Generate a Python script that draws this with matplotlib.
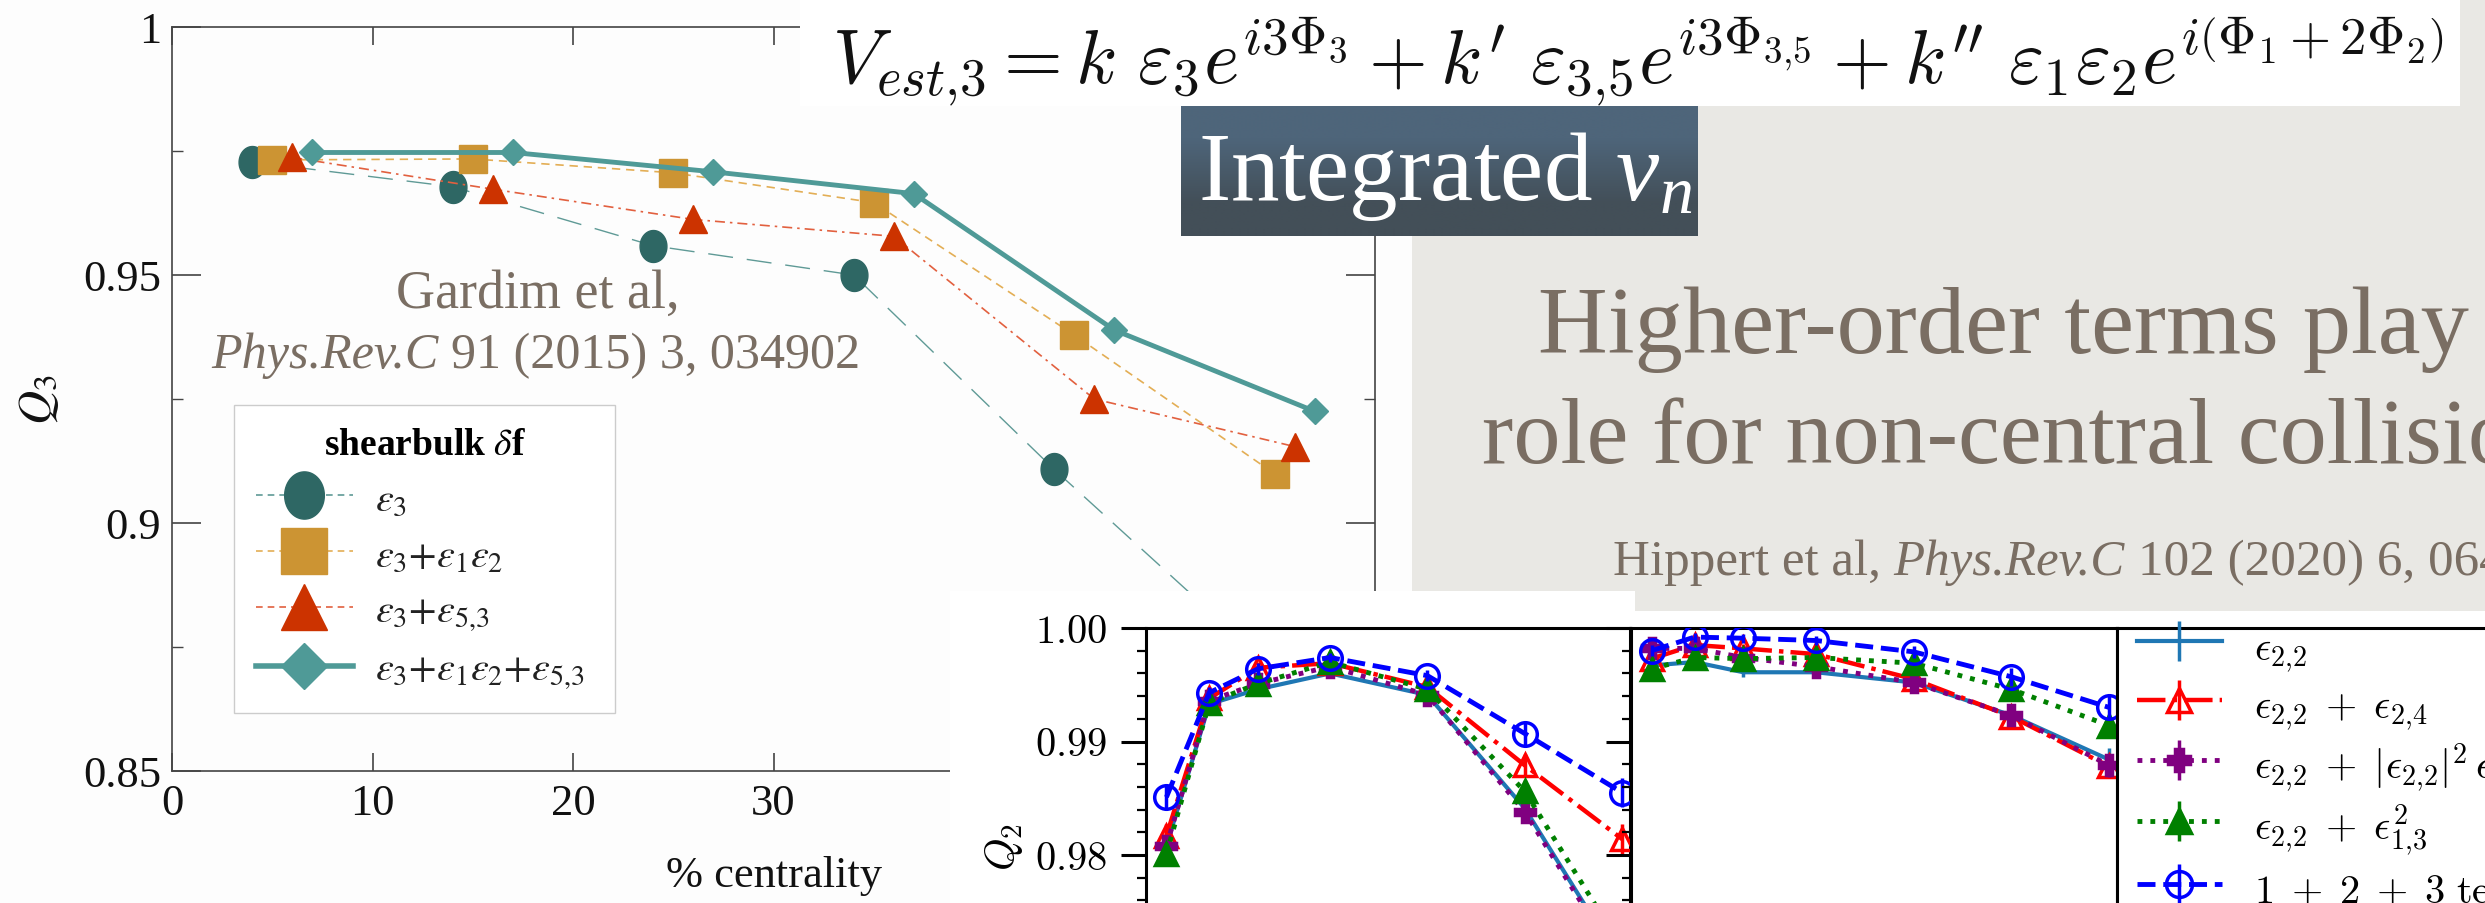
import numpy as np
import matplotlib
matplotlib.use("Agg")
import matplotlib.pyplot as plt
from matplotlib.patches import Rectangle
from matplotlib.path import Path
from matplotlib.lines import Line2D
from matplotlib.font_manager import FontProperties
from matplotlib.ticker import FixedLocator, MultipleLocator, FuncFormatter
import matplotlib.colors as mcolors

# ---------------- data: Gardim et al. (left chart) ----------------
gardim_labels = [r"$\varepsilon_3$",
                 r"$\varepsilon_3{+}\varepsilon_1\varepsilon_2$",
                 r"$\varepsilon_3{+}\varepsilon_{5{,}3}$",
                 r"$\varepsilon_3{+}\varepsilon_1\varepsilon_2{+}\varepsilon_{5{,}3}$"]
cent_e3 = [4, 14, 24, 34, 44, 54]
q3_e3 = [0.9728, 0.9678, 0.9559, 0.9500, 0.9108, 0.8740]
q3_e3_err = [0.0012, 0.0010, 0.0009, 0.0008, 0.0008, 0.0008]
cent_e3_e12 = [5, 15, 25, 35, 45, 55]
q3_e3_e12 = [0.9732, 0.9734, 0.9706, 0.9646, 0.9379, 0.9099]
cent_e3_e53 = [6, 16, 26, 36, 46, 56]
q3_e3_e53 = [0.9737, 0.9673, 0.9612, 0.9578, 0.9250, 0.9154]
cent_all = [7, 17, 27, 37, 47, 57]
q3_all = [0.9747, 0.9747, 0.9708, 0.9664, 0.9389, 0.9225]
gardim_xticks = [0, 10, 20, 30, 40, 50, 60]
gardim_yticks = [0.85, 0.9, 0.95, 1.0]

# ---------------- data: Hippert et al. (bottom right panels) ----------------
hip_cent = [8.2, 12.6, 17.6, 25, 35, 45, 55]
hip_labels = [r"$\epsilon_{2{,}2}$",
              r"$\epsilon_{2{,}2}\;+\;\epsilon_{2{,}4}$",
              r"$\epsilon_{2{,}2}\;+\;|\epsilon_{2{,}2}|^2\,\epsilon_{2{,}2}$",
              r"$\epsilon_{2{,}2}\;+\;\epsilon_{1{,}3}^2$",
              r"$1\;+\;2\;+\;3\ \mathrm{terms}$"]
# left panel
q2a_e22 = [0.9808, 0.9933, 0.9946, 0.9960, 0.9941, 0.9841, 0.9703]
q2a_e24 = [0.9817, 0.9938, 0.9965, 0.9969, 0.9948, 0.9879, 0.9814]
q2a_cub = [0.9808, 0.9936, 0.9951, 0.9966, 0.9941, 0.9838, 0.9700]
q2a_e13 = [0.9801, 0.9934, 0.9951, 0.9970, 0.9946, 0.9856, 0.9718]
q2a_all = [0.9851, 0.9943, 0.9964, 0.9974, 0.9958, 0.9907, 0.9855]
q2a_err = [0.0010, 0.0005, 0.0005, 0.0004, 0.0005, 0.0010, 0.0013]
# right panel
q2b_e22 = [0.9967, 0.9970, 0.9961, 0.9961, 0.9952, 0.9923, 0.9884]
q2b_e24 = [0.9973, 0.9985, 0.9982, 0.9977, 0.9955, 0.9922, 0.9878]
q2b_cub = [0.9982, 0.9982, 0.9974, 0.9966, 0.9952, 0.9923, 0.9879]
q2b_e13 = [0.9964, 0.9974, 0.9973, 0.9974, 0.9969, 0.9946, 0.9914]
q2b_all = [0.9980, 0.9992, 0.9991, 0.9989, 0.9979, 0.9957, 0.9930]
q2b_err = [0.0005, 0.0004, 0.0004, 0.0004, 0.0005, 0.0008, 0.0010]
hip_yticks = [0.96, 0.97, 0.98, 0.99, 1.00]

# ---------------- texts ----------------
equation = (r"$V_{est{,}3} = k\ \varepsilon_3 e^{i3\Phi_3} + k'\ \varepsilon_{3{,}5}e^{i3\Phi_{3{,}5}}"
            r" + k''\ \varepsilon_1\varepsilon_2 e^{i\left(\Phi_1+2\Phi_2\right)}$")
banner = r"Integrated $v_n$"
headline = ["Higher-order terms play", "role for non-central collisions"]
hippert_ref = [("Hippert et al,", "normal"), ("Phys.Rev.C", "italic"),
               ("102 (2020) 6, 064909", "normal")]
gardim_ref1 = "Gardim et al,"
gardim_ref2 = [("Phys.Rev.C", "italic"), ("91 (2015) 3, 034902", "normal")]

# ---------------- figure ----------------
W, H, DPI = 2485, 904, 100
PAPER = "#e9e8e4"
BROWN = "#7a6e63"
plt.rcParams["font.family"] = ["Liberation Serif", "DejaVu Serif"]
plt.rcParams["mathtext.fontset"] = "cm"
plt.rcParams["mathtext.rm"] = "Liberation Serif"
plt.rcParams["mathtext.it"] = "Liberation Serif:italic"
plt.rcParams["mathtext.bf"] = "Liberation Serif:bold"

fig = plt.figure(figsize=(W / DPI, H / DPI), dpi=DPI)
fig.patch.set_facecolor(PAPER)


def frect(x0, y0, x1, y1):
    return [x0 / W, 1 - y1 / H, (x1 - x0) / W, (y1 - y0) / H]


# background layer (white area of the left screenshot)
bg = fig.add_axes([0, 0, 1, 1], zorder=0)
bg.set_xlim(0, W); bg.set_ylim(H, 0); bg.axis("off")
bg.add_patch(Rectangle((0, 0), 1412, H, facecolor="#fdfdfd", edgecolor="none"))

# ---------------- left chart ----------------
ax = fig.add_axes(frect(172, 28, 1375, 772), zorder=1)
ax.set_facecolor("none")
th = np.linspace(0, 2 * np.pi, 64)
ellipse = Path(np.column_stack([0.84 * np.cos(th), np.sin(th)]))

c_circ, c_circ_line = "#2e6764", "#5f9a96"
c_sq, c_sq_line = "#cc9433", "#e3ae55"
c_tri, c_tri_line = "#cc3300", "#e2603f"
c_dia = "#4f9a97"

ax.errorbar(cent_e3, q3_e3, yerr=q3_e3_err, fmt="none", ecolor=c_circ,
            elinewidth=1.3, capsize=4, capthick=1.3, zorder=2)
ax.plot(cent_e3, q3_e3, color=c_circ_line, ls=(0, (18, 10)), lw=1.0,
        marker=ellipse, ms=23, mfc=c_circ, mec=c_circ, zorder=3)
ax.plot(cent_e3_e12, q3_e3_e12, color=c_sq_line, ls=(0, (5, 3.5)), lw=1.2,
        marker="s", ms=19.5, mfc=c_sq, mec=c_sq, zorder=3)
ax.plot(cent_e3_e53, q3_e3_e53, color=c_tri_line, ls=(0, (6, 3, 1.5, 3)), lw=1.2,
        marker="^", ms=20, mfc=c_tri, mec=c_tri, zorder=3)
ax.plot(cent_all, q3_all, color=c_dia, ls="-", lw=3.5,
        marker="D", ms=13.5, mfc=c_dia, mec=c_dia, zorder=4)

ax.set_xlim(0, 60)
ax.set_ylim(0.85, 1.0)
ax.xaxis.set_major_locator(FixedLocator(gardim_xticks))
ax.yaxis.set_major_locator(FixedLocator(gardim_yticks))
ax.yaxis.set_minor_locator(MultipleLocator(0.025))
ax.yaxis.set_major_formatter(FuncFormatter(lambda v, p: f"{v:g}"))
for s in ax.spines.values():
    s.set_color("#444444"); s.set_linewidth(1.2)
ax.tick_params(axis="y", which="major", direction="in", length=21, width=1.2,
               left=True, right=True, pad=8, labelsize=32, colors="#444444", labelcolor="#111111")
ax.tick_params(axis="y", which="minor", direction="in", length=8, width=1.0,
               left=True, right=True, colors="#444444")
ax.tick_params(axis="x", which="major", direction="in", length=13, width=1.2,
               top=True, bottom=True, pad=9, labelsize=32, colors="#444444", labelcolor="#111111")
ax.set_xlabel("% centrality", fontsize=32, color="#111111")
ax.xaxis.set_label_coords(0.5, -0.113)
ax.set_ylabel(r"$Q_3$", fontsize=34, math_fontfamily="stix", color="#111111")
ax.yaxis.set_label_coords(-0.092, 0.5)

leg_handles = [
    Line2D([], [], color=c_circ_line, ls=(0, (4, 3)), lw=1.2, marker=ellipse, ms=34, mfc=c_circ, mec=c_circ),
    Line2D([], [], color=c_sq_line, ls=(0, (4, 3)), lw=1.2, marker="s", ms=33, mfc=c_sq, mec=c_sq),
    Line2D([], [], color=c_tri_line, ls=(0, (4, 3)), lw=1.2, marker="^", ms=33, mfc=c_tri, mec=c_tri),
    Line2D([], [], color=c_dia, ls="-", lw=4, marker="D", ms=23, mfc=c_dia, mec=c_dia),
]
leg = ax.legend(leg_handles, gardim_labels, loc="upper left",
                bbox_to_anchor=(234 / W, 1 - 712 / H, 381 / W, 306 / H),
                bbox_transform=fig.transFigure, mode="expand",
                title=r"shearbulk $\delta$f",
                title_fontproperties=FontProperties(family="Liberation Serif", weight="bold",
                                                    size=27, math_fontfamily="stix"),
                prop=FontProperties(family="Liberation Serif", size=29, math_fontfamily="stix"),
                frameon=True, fancybox=False, edgecolor="#cccccc", facecolor="white",
                framealpha=1, borderpad=0.55, borderaxespad=0, handlelength=2.4,
                handletextpad=0.55, labelspacing=0.47, numpoints=1)
leg.get_frame().set_linewidth(1.0)
for t in leg.get_texts():
    t.set_color("#222222")

# ---------------- overlay layer (boxes and slide texts) ----------------
ov = fig.add_axes([0, 0, 1, 1], zorder=2)
ov.set_xlim(0, W); ov.set_ylim(H, 0); ov.axis("off")
ov.add_patch(Rectangle((800, 0), 1660, 107, facecolor="white", edgecolor="none"))
grad = np.array([[mcolors.to_rgb("#4e657a")], [mcolors.to_rgb("#434f58")]])
ov.imshow(grad, extent=(1181, 1698, 237, 107), origin="upper", aspect="auto",
          interpolation="bilinear", zorder=1)
ov.add_patch(Rectangle((950, 592), 685, H - 592, facecolor="white", edgecolor="none", zorder=1))
ov.add_patch(Rectangle((1635, 612), W - 1635, H - 612, facecolor="white", edgecolor="none", zorder=1))
ov.set_xlim(0, W); ov.set_ylim(H, 0)

renderer = fig.canvas.get_renderer()


def fit(t, target):
    for _ in range(3):
        w = t.get_window_extent(renderer).width
        t.set_fontsize(t.get_fontsize() * target / w)
    return t.get_fontsize()


def make_segs(y, segs, fs, color=BROWN):
    return [ov.text(0, y, txt, fontsize=fs, style=st, color=color, va="baseline",
                    ha="left", zorder=3) for txt, st in segs]


def seg_width(objs, fs):
    sp = fs * DPI / 72 * 0.25
    return sum(o.get_window_extent(renderer).width for o in objs) + sp * (len(objs) - 1)


def place(x, y, segs, target_width, ha="left"):
    """Create a line of mixed upright/italic segments whose total width is target_width."""
    fs = 30.0
    objs = make_segs(y, segs, fs)
    for _ in range(3):
        fs = fs * target_width / seg_width(objs, fs)
        for o in objs:
            o.set_fontsize(fs)
    widths = [o.get_window_extent(renderer).width for o in objs]
    sp = fs * DPI / 72 * 0.25
    x0 = x - (sum(widths) + sp * (len(objs) - 1)) / 2 if ha == "center" else x
    for o, w in zip(objs, widths):
        o.set_x(x0)
        x0 += w + sp
    return objs


t_eq = ov.text(832, 84, equation, fontsize=40, color="#111111", va="baseline",
               ha="left", math_fontfamily="cm", zorder=3)
fit(t_eq, 1612)
t_ban = ov.text(1198, 200, banner, fontsize=60, color="white", va="baseline", ha="left",
                math_fontfamily="custom", zorder=3)
fit(t_ban, 494)
t_h1 = ov.text(1538, 353, headline[0], fontsize=60, color=BROWN, va="baseline", ha="left", zorder=3)
fs_h = fit(t_h1, 930)
tmp = ov.text(0, 0, headline[1][:-2], fontsize=fs_h)
fs_h2 = 0.5 * (fs_h + fit(tmp, 1010))
tmp.remove()
ov.text(1482, 463, headline[1], fontsize=fs_h2, color=BROWN, va="baseline", ha="left", zorder=3)
place(1613, 575, hippert_ref, 968)
t_g1 = ov.text(538, 308, gardim_ref1, fontsize=30, color=BROWN, va="baseline", ha="center", zorder=3)
fit(t_g1, 284)
place(536, 368, gardim_ref2, 650, ha="center")

# ---------------- Hippert panels ----------------
p1 = fig.add_axes(frect(1146, 629, 1630, 1083), zorder=3)
p2 = fig.add_axes(frect(1631, 629, 2117, 1083), zorder=3)
pl = fig.add_axes(frect(2117, 629, 2700, 1083), zorder=3)

series_a = [q2a_e22, q2a_e24, q2a_cub, q2a_e13, q2a_all]
series_b = [q2b_e22, q2b_e24, q2b_cub, q2b_e13, q2b_all]
styles = [
    dict(color="#1f77b4", ls="-", lw=3.0, marker="", ms=0, mfc="#1f77b4"),
    dict(color="#ff0000", ls="-.", lw=3.2, marker="^", ms=16, mfc="none"),
    dict(color="#800080", ls=":", lw=3.5, marker="P", ms=15, mfc="#800080"),
    dict(color="#008000", ls=":", lw=3.5, marker="^", ms=16, mfc="#008000"),
    dict(color="#0000ff", ls="--", lw=3.5, marker="o", ms=17, mfc="none"),
]
handles = []
for pax, series, err in [(p1, series_a, q2a_err), (p2, series_b, q2b_err)]:
    for i, (vals, st) in enumerate(zip(series, styles)):
        cont = pax.errorbar(hip_cent, vals, yerr=err, color=st["color"], ls=st["ls"], lw=st["lw"],
                            marker=st["marker"], ms=st["ms"], mfc=st["mfc"], mec=st["color"],
                            mew=2.5, ecolor=st["color"], elinewidth=2.5, capsize=0,
                            label=hip_labels[i], zorder=2 + i)
        if pax is p1:
            handles.append(cont)
    pax.set_xlim(6.1, 55.8)
    pax.set_ylim(0.96, 1.0)
    pax.yaxis.set_major_locator(FixedLocator(hip_yticks))
    pax.yaxis.set_minor_locator(MultipleLocator(0.002))
    pax.set_facecolor("white")
    for s in pax.spines.values():
        s.set_linewidth(2.2); s.set_color("black")
    pax.tick_params(axis="y", which="major", direction="out", length=18, width=2.2,
                    left=True, right=False, labelsize=29, pad=10)
    pax.tick_params(axis="y", which="minor", direction="out", length=6.5, width=1.6,
                    left=True, right=False)
    pax.tick_params(axis="x", which="both", bottom=False, top=False, labelbottom=False)

p1.yaxis.set_major_formatter(FuncFormatter(lambda v, p: f"${v:.2f}$"))
p2.tick_params(axis="y", labelleft=False)
p1.set_ylabel(r"$Q_2$", fontsize=30, math_fontfamily="cm")
p1.yaxis.set_label_coords(-0.25, 0.52)

pl.set_facecolor("white")
pl.set_xticks([]); pl.set_yticks([])
for s in pl.spines.values():
    s.set_linewidth(2.2); s.set_color("black")
pl.legend(handles, hip_labels, loc="upper left", bbox_to_anchor=(2137 / W, 1 - 624 / H),
          bbox_transform=fig.transFigure, frameon=False, borderpad=0, borderaxespad=0,
          handlelength=2.1, handleheight=1.35, handletextpad=0.8, labelspacing=0.2,
          markerscale=1.1, prop=FontProperties(size=29, math_fontfamily="cm"))

fig.savefig("out.png", dpi=DPI, facecolor=fig.get_facecolor())
